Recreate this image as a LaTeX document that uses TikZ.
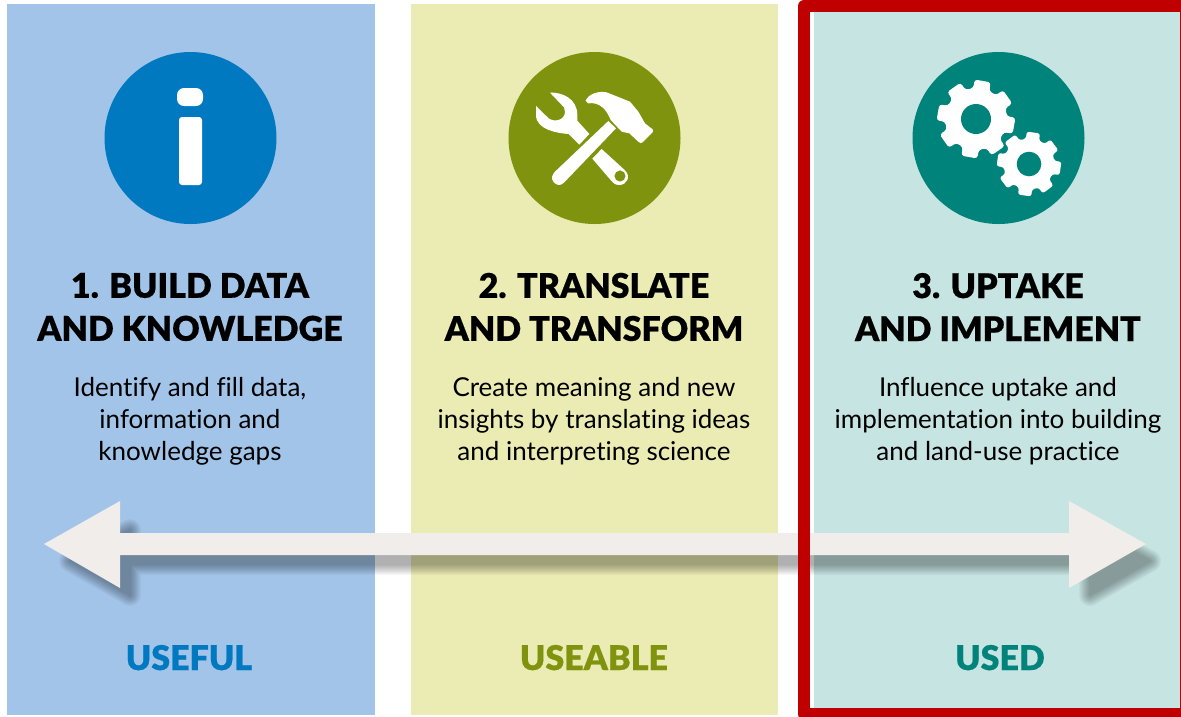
\documentclass[tikz,border=0pt]{standalone}
\usepackage{fontspec}
\setmainfont[Ligatures=NoCommon]{Lato}
\newfontfamily\blackfont[FakeBold=0.5]{Lato Black}
\definecolor{pblue}{HTML}{A3C4E9}
\definecolor{pgreen}{HTML}{EBECB3}
\definecolor{pteal}{HTML}{C6E4E2}
\definecolor{cblue}{HTML}{0079C1}
\definecolor{cgreen}{HTML}{7F930E}
\definecolor{cteal}{HTML}{00837B}
\definecolor{arrowfill}{HTML}{F0EDEA}
\definecolor{framered}{HTML}{C00000}
\tikzset{
  panel/.style={fill=#1,draw=none},
  disc/.style={circle,fill=#1,draw=none,minimum size=172pt,inner sep=0pt},
  heading/.style={font=\fontsize{34}{43}\selectfont\blackfont,align=center,text=black,inner sep=0pt},
  bodytext/.style={font=\fontsize{26}{32}\selectfont,align=center,text=black,inner sep=0pt},
  tag/.style={font=\fontsize{34}{40}\selectfont\blackfont,text=#1,inner sep=0pt,anchor=base},
  icon/.style={fill=white,draw=none},
}
\newcommand{\arrowpath}{(44,544) -- (120,501) -- (120,533) -- (1069,533) -- (1069,501) -- (1146,544) -- (1069,588) -- (1069,555) -- (120,555) -- (120,588) -- cycle}
\newcommand{\gearpath}[3]{%
  \foreach \k in {0,...,7}{
    \pgfextra{\pgfmathsetmacro{\ang}{#3+45*\k}}
    -- ({\ang-15}:#1) -- ({\ang-12}:#2) -- ({\ang+12}:#2) -- ({\ang+15}:#1)
  }
}
\begin{document}
\begin{tikzpicture}[x=1pt,y=-1pt]
\useasboundingbox (0,0) rectangle (1181,716);
\fill[white] (0,0) rectangle (1181,716);
% panels
\fill[panel=pblue] (7,4) rectangle (375,715);
\fill[panel=pgreen] (411,4) rectangle (778,715);
\fill[panel=pteal] (814,12) rectangle (1181,716);
% discs
\node[disc=cblue] (d1) at (190.5,138) {};
\node[disc=cgreen] (d2) at (594.5,138) {};
\node[disc=cteal] (d3) at (998.5,138) {};
% info icon
\fill[icon,rounded corners=7pt] (177,88) rectangle (203,106);
\fill[icon,rounded corners=3pt] (179,117) rectangle (202,185);
% tools icon
\begin{scope}[shift={(490,70)},x=0.3333pt,y=-0.3333pt]
  % wrench upper
  \fill[icon] (180,68) .. controls (215,66) and (262,85) .. (262,135) -- (262,152) -- (298,192) -- (268,224) -- (236,192)
    .. controls (205,190) and (138,180) .. (138,135) -- (138,108) -- (176,145)
    .. controls (195,158) and (225,150) .. (225,125) -- (222,112) -- cycle;
  % wrench lower with ring
  \fill[icon,even odd rule] (335,237) -- (404,300) .. controls (425,320) and (410,345) .. (388,345)
     .. controls (375,345) and (368,338) .. (362,330) -- (307,266) -- cycle
     (390,318) circle[radius=17];
  % handle
  \fill[icon] (355,153) -- (378,175) -- (222,338) .. controls (210,350) and (198,345) .. (190,335) .. controls (183,325) and (186,315) .. (195,305) -- cycle;
  % hammer head
  \fill[icon] (287,92) .. controls (295,72) and (325,62) .. (350,67) -- (395,85) -- (420,95) -- (445,125) -- (465,160) -- (488,178)
    .. controls (491,182) and (490,185) .. (487,188) -- (458,217) .. controls (454,220) and (450,220) .. (446,216)
    -- (418,190) -- (395,185) -- (362,150) .. controls (350,120) and (330,95) .. (295,100) -- cycle;
\end{scope}
% gears
\begin{scope}[shift={(976,119)}]
  \fill[icon,rounded corners=3pt] (-12.5:31) \gearpath{31}{39.5}{10} -- cycle;
  \fill[cteal] (0,0) circle[radius=15];
\end{scope}
\begin{scope}[shift={(1029,164)}]
  \fill[icon,rounded corners=2.5pt] (-14.5:25.5) \gearpath{25.5}{32.5}{8} -- cycle;
  \fill[cteal] (0,0) circle[radius=12.3];
\end{scope}
% headings
\node[heading] (h1) at (190,307) {1. BUILD DATA\\AND KNOWLEDGE};
\node[heading] (h2) at (594,307) {2. TRANSLATE\\AND TRANSFORM};
\node[heading] (h3) at (998,307) {3. UPTAKE\\AND IMPLEMENT};
% body
\node[bodytext] (b1) at (190,421) {Identify and fill data,\\information and\\knowledge gaps};
\node[bodytext] (b2) at (594,421) {Create meaning and new\\insights by translating ideas\\and interpreting science};
\node[bodytext] (b3) at (998,421) {Influence uptake and\\implementation into building\\and land-use practice};
% white strip inside the frame
\fill[white] (810,12) rectangle (814,708);
% arrow shadow
\foreach \w in {2,4,...,22}{
  \begin{scope}[transparency group,opacity=0.033]
    \filldraw[black,line width=\w pt,line join=round] (70,561) -- (130,530) -- (130,548) -- (1090,548) -- (1090,528) -- (1150,561) -- (1090,595) -- (1090,564) -- (130,564) -- (130,595) -- cycle;
  \end{scope}
}
% arrow
\fill[arrowfill] \arrowpath;
% tags
\node[tag=cblue] (t1) at (189,670) {USEFUL};
\node[tag=cgreen] (t2) at (594,670) {USEABLE};
\node[tag=cteal] (t3) at (1000,670) {USED};
% frame
\draw[framered,line width=12pt,line join=round] (804,6) -- (1186,6) -- (1186,714) -- (804,714) -- cycle;
\end{tikzpicture}
\end{document}
